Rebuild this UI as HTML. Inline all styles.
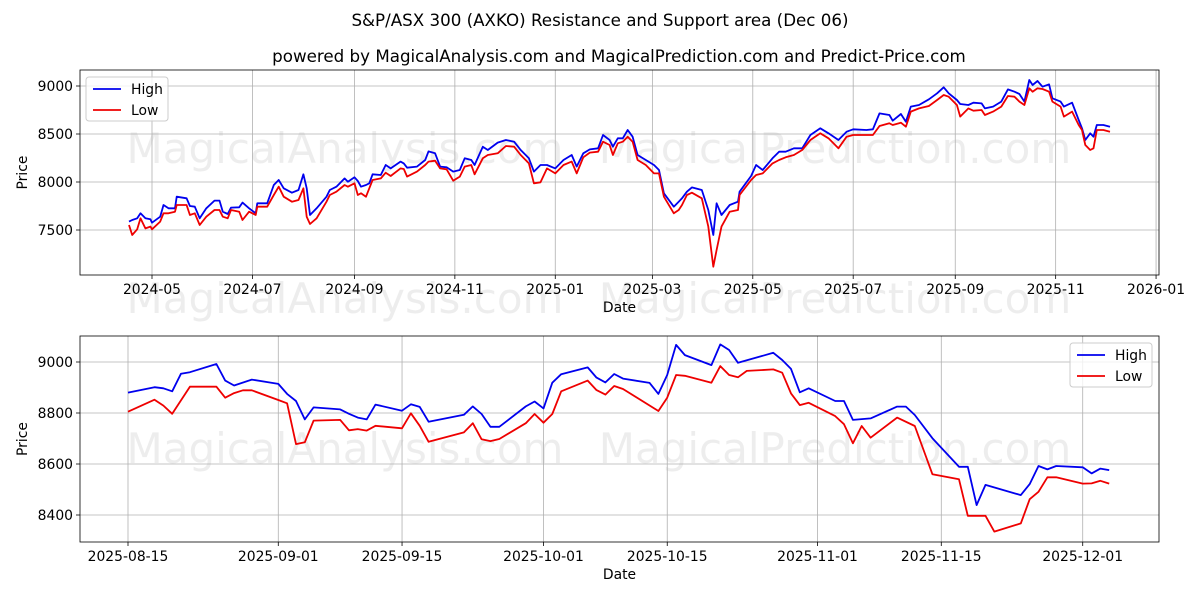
<!DOCTYPE html>
<html><head><meta charset="utf-8"><style>
body{margin:0;background:#fff;}
svg{display:block;font-family:"DejaVu Sans","Liberation Sans",sans-serif;}
</style></head><body>
<svg id="chart" width="1200" height="600" viewBox="0 0 1200 600" xmlns="http://www.w3.org/2000/svg">
<rect width="1200" height="600" fill="#fff"/>
<text x="600" y="26" text-anchor="middle" font-size="16.7">S&amp;P/ASX 300 (AXKO) Resistance and Support area (Dec 06)</text>
<text x="619" y="62" text-anchor="middle" font-size="16.7">powered by MagicalAnalysis.com and MagicalPrediction.com and Predict-Price.com</text>
<g fill="#000" fill-opacity="0.07" font-size="42">
<text x="345" y="163" text-anchor="middle">MagicalAnalysis.com</text>
<text x="835" y="163" text-anchor="middle">MagicalPrediction.com</text>
<text x="345" y="313" text-anchor="middle">MagicalAnalysis.com</text>
<text x="835" y="313" text-anchor="middle">MagicalPrediction.com</text>
<text x="345" y="463" text-anchor="middle">MagicalAnalysis.com</text>
<text x="835" y="463" text-anchor="middle">MagicalPrediction.com</text>
</g>
<g id="top"></g>
<g id="bot"></g>
</svg>
<script>
// Top panel: days since 2024-05-01
const topDays=[-14,-12,-9,-7,-4,-1,0,5,7,10,14,15,21,23,26,29,33,38,41,43,46,48,53,55,59,63,64,70,74,77,80,85,89,92,94,96,100,106,108,112,117,119,123,125,127,130,132,134,139,142,145,151,153,155,161,166,168,172,175,179,183,187,190,194,196,201,204,210,215,220,224,229,232,236,240,245,250,255,258,262,266,271,274,278,280,283,286,289,292,295,300,305,308,311,317,320,322,325,328,334,338,341,343,346,351,356,357,364,367,371,377,381,385,390,395,400,406,411,417,422,426,434,438,442,448,450,455,458,461,466,472,477,481,484,489,491,496,499,504,506,511,516,520,524,527,530,533,535,538,541,545,547,552,554,559,563,565,567,570,572,574,578,582];
const topHigh=[7587,7604,7622,7674,7622,7611,7576,7639,7760,7726,7726,7847,7830,7750,7743,7622,7726,7806,7806,7691,7667,7733,7736,7785,7726,7674,7778,7778,7969,8021,7934,7889,7917,8080,7934,7656,7726,7847,7917,7951,8038,8003,8049,8010,7951,7969,7986,8080,8073,8177,8142,8212,8194,8149,8160,8229,8319,8299,8160,8153,8108,8125,8247,8229,8177,8368,8333,8410,8438,8420,8333,8247,8108,8177,8177,8142,8229,8281,8160,8299,8340,8351,8490,8438,8368,8455,8455,8542,8472,8281,8229,8177,8125,7882,7743,7795,7830,7899,7944,7917,7708,7448,7778,7656,7760,7795,7899,8063,8177,8125,8247,8316,8316,8351,8351,8490,8559,8507,8438,8524,8549,8542,8549,8715,8698,8639,8708,8628,8785,8802,8861,8924,8986,8924,8854,8813,8802,8826,8819,8767,8785,8837,8965,8941,8917,8837,9062,9010,9052,8993,9017,8872,8837,8785,8826,8646,8559,8438,8507,8472,8594,8594,8576];
const topLow=[7552,7448,7507,7622,7517,7535,7507,7587,7674,7674,7691,7760,7760,7656,7674,7552,7639,7708,7708,7639,7622,7708,7691,7604,7691,7656,7743,7743,7865,7951,7847,7795,7813,7934,7639,7563,7622,7795,7865,7899,7969,7951,7986,7865,7882,7847,7934,8021,8038,8097,8063,8142,8135,8056,8108,8177,8212,8222,8142,8132,8014,8056,8160,8177,8080,8247,8281,8299,8375,8368,8281,8194,7986,7997,8142,8090,8177,8212,8090,8257,8306,8316,8420,8385,8281,8403,8420,8472,8420,8229,8177,8090,8090,7847,7674,7708,7760,7865,7889,7830,7535,7118,7292,7535,7691,7708,7865,8021,8073,8090,8194,8229,8257,8281,8333,8438,8507,8455,8351,8472,8490,8490,8490,8583,8611,8594,8618,8576,8733,8767,8792,8854,8906,8889,8802,8681,8767,8743,8750,8698,8733,8785,8896,8889,8837,8802,8976,8941,8976,8969,8941,8837,8785,8681,8733,8594,8542,8385,8333,8351,8542,8542,8524];
const topTickDays=[0,61,123,184,245,304,365,426,488,549,610];
const topTickLabels=["2024-05","2024-07","2024-09","2024-11","2025-01","2025-03","2025-05","2025-07","2025-09","2025-11","2026-01"];
const topYTicks=[7500,8000,8500,9000];
// Bottom panel: days since 2025-08-15
const botHighDays=[0,3,4,5,6,7,10,11,12,14,17,18,19,20,21,24,25,26,27,28,31,32,33,34,38,39,40,41,42,45,46,47,48,49,52,53,54,55,56,59,60,61,62,63,66,67,68,69,73,74,75,76,77,80,81,82,84,87,88,89,91,94,95,96,97,101,102,103,104,105,108,109,110,111];
const botHigh=[8880,8901,8897,8885,8954,8960,8992,8927,8908,8931,8914,8875,8847,8775,8822,8814,8797,8782,8775,8833,8809,8834,8824,8766,8793,8826,8796,8746,8746,8826,8845,8818,8919,8952,8979,8939,8920,8953,8935,8918,8875,8949,9067,9027,8988,9069,9047,8997,9036,9008,8973,8881,8897,8847,8847,8773,8779,8825,8825,8792,8701,8589,8589,8439,8518,8478,8521,8592,8579,8592,8587,8563,8582,8576];
const botLowDays=[0,3,4,5,7,10,11,12,13,14,17,18,19,20,21,24,25,26,27,28,31,32,33,34,38,39,40,41,42,45,46,47,48,49,52,53,54,55,56,60,61,62,63,66,67,68,69,70,73,74,75,76,77,80,81,82,83,84,87,89,91,94,95,97,98,101,102,103,104,105,108,109,110,111];
const botLow=[8805,8852,8829,8797,8903,8903,8860,8878,8889,8889,8851,8838,8678,8685,8770,8773,8732,8737,8731,8750,8740,8799,8750,8687,8724,8760,8697,8690,8698,8760,8796,8762,8796,8885,8927,8890,8872,8906,8894,8808,8860,8949,8946,8919,8984,8949,8940,8965,8971,8958,8877,8831,8840,8788,8756,8681,8749,8703,8782,8749,8560,8540,8397,8397,8335,8367,8462,8491,8548,8548,8523,8524,8534,8523];
const botTickDays=[0,17,31,47,61,78,92,108];
const botTickLabels=["2025-08-15","2025-09-01","2025-09-15","2025-10-01","2025-10-15","2025-11-01","2025-11-15","2025-12-01"];
const botYTicks=[8400,8600,8800,9000];

const NS="http://www.w3.org/2000/svg";
function mk(parent,tag,attrs){const e=document.createElementNS(NS,tag);for(const k in attrs)e.setAttribute(k,attrs[k]);parent.appendChild(e);return e;}

function panel(g,box,xf,yf,xTicks,xLabels,yTicks,series,legendX,legendY,prefix){
  for(let i=0;i<xTicks.length;i++){
    const x=xf(xTicks[i]);
    const gl=mk(g,'line',{x1:x,x2:x,y1:box.t,y2:box.b,stroke:'#b0b0b0','stroke-width':0.8});
    
    
    const tk=mk(g,'line',{x1:x,x2:x,y1:box.b,y2:box.b+4,stroke:'#000','stroke-width':0.8});
    
    
    const t=mk(g,'text',{x:x,y:box.b+19,'text-anchor':'middle','font-size':13.9});
    t.textContent=xLabels[i];
    
    
  }
  for(const v of yTicks){
    const y=yf(v);
    const gl=mk(g,'line',{x1:box.l,x2:box.r,y1:y,y2:y,stroke:'#b0b0b0','stroke-width':0.8});
    
    
    const tk=mk(g,'line',{x1:box.l-4,x2:box.l,y1:y,y2:y,stroke:'#000','stroke-width':0.8});
    
    
    const t=mk(g,'text',{x:box.l-7,y:y+5,'text-anchor':'end','font-size':13.9});
    t.textContent=String(v);
    
    
  }
  const cp=mk(g,'clipPath',{id:prefix+'clip'});
  mk(cp,'rect',{x:box.l,y:box.t,width:box.r-box.l,height:box.b-box.t});
  for(const s of series){
    const d=s.days.map((dd,i)=>(i?'L':'M')+xf(dd).toFixed(1)+' '+yf(s.vals[i]).toFixed(1)).join(' ');
    const p=mk(g,'path',{d:d,fill:'none',stroke:s.color,'stroke-width':1.8,'stroke-linejoin':'round','clip-path':'url(#'+prefix+'clip)'});
    
    
  }
  const fr=mk(g,'rect',{x:box.l,y:box.t,width:box.r-box.l,height:box.b-box.t,fill:'none',stroke:'#000','stroke-width':0.8});
  
  
  const xl=mk(g,'text',{x:(box.l+box.r)/2,y:box.b+37,'text-anchor':'middle','font-size':13.9});
  xl.textContent='Date';
  
  
  const yy=(box.t+box.b)/2;
  const yl=mk(g,'text',{x:27,y:yy,'text-anchor':'middle','font-size':13.9,transform:'rotate(-90 27 '+yy+')'});
  yl.textContent='Price';
  
  
  const lg=mk(g,'g',{});
  
  
  mk(lg,'rect',{x:legendX,y:legendY,width:82,height:44,rx:3,fill:'#fff','fill-opacity':0.8,stroke:'#ccc','stroke-width':1});
  series.forEach((s,i)=>{
    const ly=legendY+12+i*21;
    const ll=mk(lg,'line',{x1:legendX+7,x2:legendX+35,y1:ly,y2:ly,stroke:s.color,'stroke-width':1.8});
    
    
    const lt=mk(lg,'text',{x:legendX+45,y:ly+5,'font-size':13.9});
    lt.textContent=s.label;
    
    
  });
}

const tb={l:80,r:1159,t:70,b:275};
panel(document.getElementById('top'),tb,d=>152+d*1.646,v=>86+(9000-v)*0.096,topTickDays,topTickLabels,topYTicks,
 [{days:topDays,vals:topHigh,color:'#0000ee',name:'high-line-top',label:'High'},{days:topDays,vals:topLow,color:'#ee0000',name:'low-line-top',label:'Low'}],86,77,'t');
const bb={l:80,r:1159,t:336,b:542};
panel(document.getElementById('bot'),bb,d=>128+d*8.84,v=>362+(9000-v)*0.255,botTickDays,botTickLabels,botYTicks,
 [{days:botHighDays,vals:botHigh,color:'#0000ee',name:'high-line-bottom',label:'High'},{days:botLowDays,vals:botLow,color:'#ee0000',name:'low-line-bottom',label:'Low'}],1070,343,'b');
</script>
</body></html>
